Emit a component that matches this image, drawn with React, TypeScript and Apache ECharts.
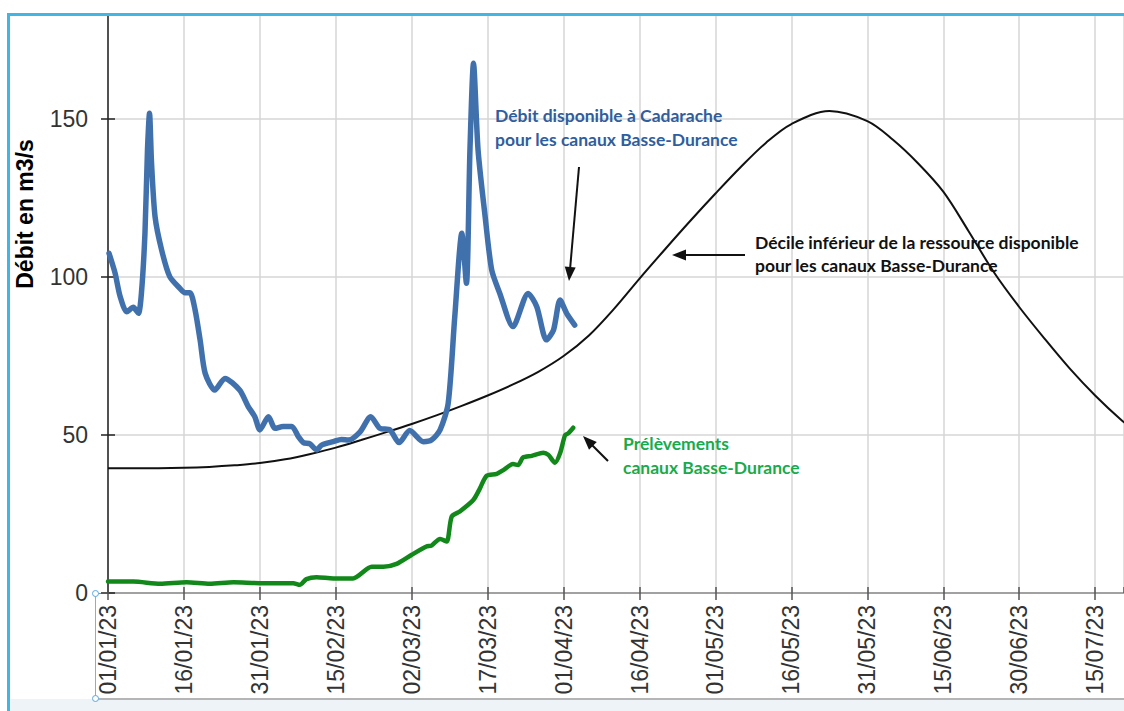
import React, { useEffect, useRef } from "react";
import * as echarts from "echarts";

const START = Date.UTC(2023, 0, 1);
const DAY = 86400000;

// x = days since 01/01/23
const debitDays = [0.2, 1.4, 2.4, 3.7, 5, 6, 6.6, 7.3, 7.8, 8.2, 8.6, 9.3, 10.6, 12.2, 14.2, 15.2, 16.2, 17.2, 18.2, 19.2, 21.1, 23.1, 26, 27.7, 29, 30, 31.7, 33, 34.6, 36.3, 37.6, 38.6, 39.9, 41.2, 42.2, 44.5, 46.1, 47.5, 49.8, 51.9, 53.7, 55.7, 57.5, 59.6, 62.3, 63.9, 65.6, 67.2, 68.5, 69.9, 70.8, 71.5, 72.2, 73.1, 74.5, 75.8, 77.4, 80, 83, 84.7, 86.6, 88, 89.3, 90.6, 92.2];
const debitValues = [107.5, 101.2, 93.8, 89, 90.4, 88.5, 94.8, 113.8, 140.2, 151.8, 136, 119, 108.5, 100.1, 96.4, 95, 95, 89.6, 80, 69.5, 64.2, 67.9, 64.2, 59, 55.8, 51.6, 55.8, 52.1, 52.7, 52.7, 49.5, 47.6, 47.2, 45.3, 46.8, 47.9, 48.6, 48.4, 51, 55.8, 52.1, 51.6, 47.6, 51.4, 47.9, 48.4, 51.6, 60, 87.4, 113.8, 98, 140.2, 167.6, 140.2, 119.1, 102.2, 94.8, 84.3, 94.8, 90.6, 80.1, 83.2, 92.7, 88.5, 84.8];

const prelevDays = [0, 5, 10.3, 15.5, 20.1, 24.8, 30, 36.6, 37.9, 39.2, 41.2, 44.5, 48.4, 52.1, 54.4, 57, 60, 62.9, 63.9, 65.6, 66.9, 67.9, 69.5, 72.2, 73.5, 74.8, 76.8, 78.1, 80, 81, 82, 83.7, 86, 87, 88.3, 89.3, 90.3, 90.9, 91.9];
const prelevValues = [3.6, 3.6, 2.9, 3.4, 2.9, 3.4, 3.1, 3.1, 2.6, 4.4, 5, 4.6, 4.6, 8.3, 8.3, 9.2, 12.1, 14.7, 15, 17.1, 16.3, 24.2, 25.8, 29.5, 33.2, 37.1, 37.7, 38.9, 40.8, 40.5, 42.9, 43.4, 44.4, 43.7, 41.2, 44.2, 50, 50.5, 52.3];

const decileDays = [0, 5, 10, 15, 20, 25, 30, 35, 40, 45, 50, 55, 60, 65, 70, 75, 80, 85, 90, 95, 100, 105, 110, 115, 120, 125, 130, 135, 142.5, 150, 155, 160, 165, 170, 175, 180, 185, 190, 195, 200, 205];
const decileValues = [39.5, 39.5, 39.5, 39.6, 39.9, 40.4, 41.1, 42.3, 44, 46, 48.4, 50.9, 53.5, 56.3, 59.3, 62.5, 66, 70, 75, 81.5, 90, 99.5, 108.7, 117.7, 126.4, 134.8, 142.5, 148.4, 152.5, 149.3, 143.5, 136, 127, 114.5, 101.5, 90.5, 80.5, 71, 62.5, 55, 48.5];

// visible axis ranges (the chart is cropped at the right and at the top)
const xMin = 0;
const xMax = 200.7;
const xStep = 15;
const yMin = 0;
const yMax = 182.9;
const yStep = 50;

const yTitle = "Débit en m3/s";
const noteDebit = "Débit disponible à Cadarache\npour les canaux Basse-Durance";
const noteDecile = "Décile inférieur de la ressource disponible\npour les canaux Basse-Durance";
const notePrelev = "Prélèvements\ncanaux Basse-Durance";

const zip = (xs: number[], ys: number[]) => xs.map((x, i) => [x, ys[i]]);

function fmtDate(d: number): string {
  const dt = new Date(START + Math.round(d) * DAY);
  const dd = String(dt.getUTCDate()).padStart(2, "0");
  const mm = String(dt.getUTCMonth() + 1).padStart(2, "0");
  const yy = String(dt.getUTCFullYear() % 100).padStart(2, "0");
  return `${dd}/${mm}/${yy}`;
}

function arrow(x1: number, y1: number, x2: number, y2: number) {
  const dx = x2 - x1;
  const dy = y2 - y1;
  const len = Math.sqrt(dx * dx + dy * dy);
  const ux = dx / len;
  const uy = dy / len;
  const hl = 14;
  const hw = 5.5;
  const bx = x2 - ux * hl;
  const by = y2 - uy * hl;
  return [
    {
      type: "line",
      shape: { x1, y1, x2: bx + ux * 2, y2: by + uy * 2 },
      style: { stroke: "#111", lineWidth: 2 },
      z: 100,
    },
    {
      type: "polygon",
      shape: {
        points: [
          [x2, y2],
          [bx - uy * hw, by + ux * hw],
          [bx + uy * hw, by - ux * hw],
        ],
      },
      style: { fill: "#111" },
      z: 100,
    },
  ];
}

const axisFont = "'Liberation Sans', Arial, sans-serif";
const noteFont = "Lato, 'Open Sans', sans-serif";

export default function App() {
  const ref = useRef<HTMLDivElement>(null);

  useEffect(() => {
    if (!ref.current) return;
    const chart = echarts.init(ref.current, undefined, { renderer: "svg" });
    chart.setOption({
      animation: false,
      backgroundColor: "transparent",
      grid: { left: 108, top: 15, right: 0, bottom: 118, containLabel: false, outerBoundsMode: "none" },
      xAxis: [
        {
          type: "value",
          min: xMin,
          max: xMax,
          interval: xStep,
          axisLine: { show: true, onZero: false, lineStyle: { color: "#8c8c8c", width: 1.5 } },
          axisTick: { show: true, length: 7, lineStyle: { color: "#555", width: 1.5 } },
          axisLabel: {
            rotate: 90,
            margin: 12,
            fontSize: 23,
            fontFamily: axisFont,
            color: "#333",
            showMaxLabel: false,
            formatter: (v: number) => (Math.abs(v - Math.round(v)) > 0.01 ? "" : fmtDate(v)),
          },
          splitLine: { show: true, lineStyle: { color: "#d6d6d6", width: 1.5 } },
        },
        {
          type: "value",
          min: xMin,
          max: xMax,
          interval: xStep,
          position: "bottom",
          axisLine: { show: false },
          axisTick: { show: true, inside: true, length: 6, lineStyle: { color: "#555", width: 1.5 } },
          axisLabel: { show: false },
          splitLine: { show: false },
        },
      ],
      yAxis: [
        {
          type: "value",
          min: yMin,
          max: yMax,
          interval: yStep,
          axisLine: { show: true, lineStyle: { color: "#222", width: 1.5 } },
          axisTick: { show: true, length: 7, lineStyle: { color: "#222", width: 1.5 } },
          axisLabel: {
            margin: 20,
            fontSize: 23,
            fontFamily: axisFont,
            color: "#333",
            showMaxLabel: false,
            formatter: (v: number) => (v % yStep === 0 ? String(v) : ""),
          },
          splitLine: { show: true, lineStyle: { color: "#d6d6d6", width: 1.5 } },
        },
        {
          type: "value",
          min: yMin,
          max: yMax,
          interval: yStep,
          position: "left",
          axisLine: { show: false },
          axisTick: { show: true, inside: true, length: 7, lineStyle: { color: "#222", width: 1.5 } },
          axisLabel: { show: false },
          splitLine: { show: false },
        },
      ],
      series: [
        {
          name: "Décile inférieur",
          type: "line",
          data: zip(decileDays, decileValues),
          showSymbol: false,
          smooth: 0.33,
          lineStyle: { color: "#111", width: 2 },
          z: 3,
        },
        {
          name: "Prélèvements",
          type: "line",
          data: zip(prelevDays, prelevValues),
          showSymbol: false,
          smooth: 0.25,
          lineStyle: { color: "#12881a", width: 4.5, cap: "round", join: "round" },
          z: 4,
        },
        {
          name: "Débit disponible",
          type: "line",
          data: zip(debitDays, debitValues),
          showSymbol: false,
          smooth: 0.25,
          lineStyle: { color: "#4171ad", width: 5.5, cap: "round", join: "round" },
          z: 5,
        },
      ],
      graphic: [
        {
          type: "text",
          x: 25,
          y: 214,
          rotation: Math.PI / 2,
          style: {
            text: yTitle,
            font: `bold 23px ${axisFont}`,
            fill: "#000",
            align: "center",
            verticalAlign: "middle",
          },
          z: 100,
        },
        {
          type: "text",
          x: 495,
          y: 103,
          style: {
            text: noteDebit,
            font: `bold 17.5px ${noteFont}`,
            lineHeight: 24,
            fill: "#2f5e9e",
            align: "left",
            verticalAlign: "top",
          },
          z: 100,
        },
        {
          type: "text",
          x: 755,
          y: 230.5,
          style: {
            text: noteDecile,
            font: `bold 17.5px ${noteFont}`,
            lineHeight: 23,
            fill: "#111",
            align: "left",
            verticalAlign: "top",
          },
          z: 100,
        },
        {
          type: "text",
          x: 623,
          y: 431,
          style: {
            text: notePrelev,
            font: `bold 17.5px ${noteFont}`,
            lineHeight: 24,
            fill: "#1aaa4a",
            align: "left",
            verticalAlign: "top",
          },
          z: 100,
        },
        ...arrow(579, 167, 569, 281),
        ...arrow(745, 255, 672, 255),
        ...arrow(608, 461, 583, 436),
      ],
    });
    return () => chart.dispose();
  }, []);

  const handle = (top: number) => (
    <div
      style={{
        position: "absolute",
        left: 92,
        top,
        width: 5,
        height: 5,
        borderRadius: "50%",
        border: "1px solid #5aa7e0",
        background: "#fff",
      }}
    />
  );

  return (
    <div
      style={{
        position: "fixed",
        left: 0,
        top: 0,
        width: 1124,
        height: 711,
        overflow: "hidden",
        background: "#fff",
      }}
    >
      <div ref={ref} style={{ position: "absolute", left: 0, top: 0, width: 1124, height: 711 }} />
      <div style={{ position: "absolute", left: 7, top: 13, width: 1117, height: 3, background: "#41b6e4" }} />
      <div style={{ position: "absolute", left: 7, top: 13, width: 3, height: 698, background: "#41b6e4" }} />
      <div style={{ position: "absolute", left: 10, top: 699, width: 1114, height: 12, background: "#eef3f7" }} />
      <div style={{ position: "absolute", left: 95, top: 698, width: 1029, height: 1.5, background: "#b5b5b5" }} />
      <div style={{ position: "absolute", left: 95, top: 593, width: 1, height: 105, background: "#9aaab8" }} />
      <div style={{ position: "absolute", left: 95, top: 592.5, width: 6, height: 1.5, background: "#8c8c8c" }} />
      {handle(590)}
      {handle(695)}
    </div>
  );
}
